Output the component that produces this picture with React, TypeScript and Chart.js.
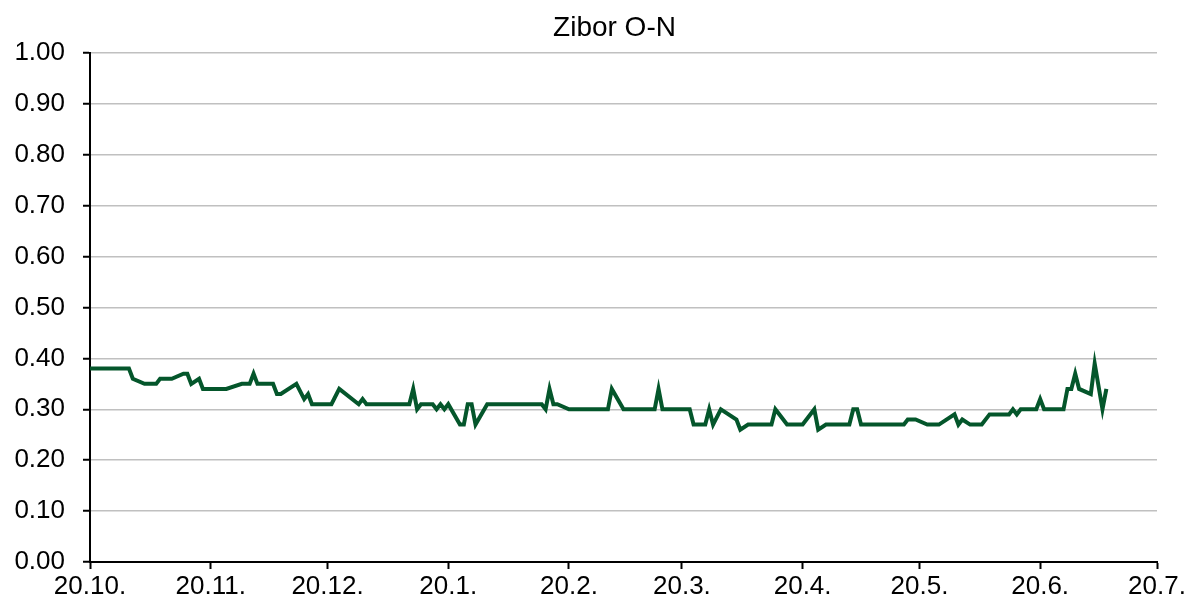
import React, { useEffect, useRef } from 'react';
import { Chart, registerables } from 'chart.js';

Chart.register(...registerables);

const TITLE = 'Zibor O-N';
const START = '2019-10-20';

const tickDates = [
  '2019-10-20', '2019-11-20', '2019-12-20', '2020-01-20', '2020-02-20',
  '2020-03-20', '2020-04-20', '2020-05-20', '2020-06-20', '2020-07-20',
];

const yTicks = [0, 0.1, 0.2, 0.3, 0.4, 0.5, 0.6, 0.7, 0.8, 0.9, 1.0];

const dates = [
  '2019-10-20', '2019-10-30', '2019-10-31', '2019-11-03', '2019-11-06', '2019-11-07',
  '2019-11-10', '2019-11-13', '2019-11-14', '2019-11-15', '2019-11-17', '2019-11-18',
  '2019-11-24', '2019-11-28', '2019-11-30', '2019-12-01', '2019-12-02', '2019-12-06',
  '2019-12-07', '2019-12-08', '2019-12-12', '2019-12-14', '2019-12-15', '2019-12-16',
  '2019-12-21', '2019-12-23', '2019-12-28', '2019-12-29', '2019-12-30',
  '2020-01-10', '2020-01-11', '2020-01-12', '2020-01-13', '2020-01-16', '2020-01-17',
  '2020-01-18', '2020-01-19', '2020-01-20', '2020-01-23', '2020-01-24', '2020-01-25',
  '2020-01-26', '2020-01-27', '2020-01-30',
  '2020-02-13', '2020-02-14', '2020-02-15', '2020-02-16', '2020-02-17', '2020-02-20',
  '2020-03-01', '2020-03-02', '2020-03-05', '2020-03-13', '2020-03-14', '2020-03-15',
  '2020-03-22', '2020-03-23', '2020-03-26', '2020-03-27', '2020-03-28', '2020-03-30',
  '2020-04-03', '2020-04-04', '2020-04-06', '2020-04-12', '2020-04-13', '2020-04-16',
  '2020-04-20', '2020-04-23', '2020-04-24', '2020-04-26',
  '2020-05-02', '2020-05-03', '2020-05-04', '2020-05-05', '2020-05-16', '2020-05-17',
  '2020-05-19', '2020-05-22', '2020-05-25', '2020-05-29', '2020-05-30', '2020-05-31',
  '2020-06-02', '2020-06-05', '2020-06-07', '2020-06-12', '2020-06-13', '2020-06-14',
  '2020-06-15', '2020-06-19', '2020-06-20', '2020-06-21', '2020-06-26', '2020-06-27',
  '2020-06-28', '2020-06-29', '2020-06-30', '2020-07-03', '2020-07-04', '2020-07-06',
  '2020-07-07',
];

const values = [
  0.38, 0.38, 0.36, 0.35, 0.35, 0.36,
  0.36, 0.37, 0.37, 0.35, 0.36, 0.34,
  0.34, 0.35, 0.35, 0.37, 0.35, 0.35,
  0.33, 0.33, 0.35, 0.32, 0.33, 0.31,
  0.31, 0.34, 0.31, 0.32, 0.31,
  0.31, 0.34, 0.30, 0.31, 0.31, 0.30,
  0.31, 0.30, 0.31, 0.27, 0.27, 0.31,
  0.31, 0.27, 0.31,
  0.31, 0.30, 0.34, 0.31, 0.31, 0.30,
  0.30, 0.34, 0.30, 0.30, 0.34, 0.30,
  0.30, 0.27, 0.27, 0.30, 0.27, 0.30,
  0.28, 0.26, 0.27, 0.27, 0.30, 0.27,
  0.27, 0.30, 0.26, 0.27,
  0.27, 0.30, 0.30, 0.27, 0.27, 0.28,
  0.28, 0.27, 0.27, 0.29, 0.27, 0.28,
  0.27, 0.27, 0.29, 0.29, 0.30, 0.29,
  0.30, 0.30, 0.32, 0.30, 0.30, 0.34,
  0.34, 0.37, 0.34, 0.33, 0.39, 0.30,
  0.34,
];

const DAY = 86400000;
function toUTC(s: string): number {
  const [y, m, d] = s.split('-').map(Number);
  return Date.UTC(y, m - 1, d);
}
const START_MS = toUTC(START);
function dayIndex(s: string): number {
  return Math.round((toUTC(s) - START_MS) / DAY);
}
function dayLabel(v: number): string {
  const dt = new Date(START_MS + Math.round(v) * DAY);
  return `${dt.getUTCDate()}.${dt.getUTCMonth() + 1}.`;
}

const FONT_FAMILY = '"Liberation Sans", Arial, Helvetica, sans-serif';

const shiftTitle = {
  id: 'shiftTitle',
  afterLayout(chart: any) {
    const t = chart.titleBlock;
    if (t) {
      t.left = 72;
    }
  },
};

export default function App() {
  const canvasRef = useRef<HTMLCanvasElement | null>(null);

  useEffect(() => {
    document.body.style.margin = '0';
    const canvas = canvasRef.current;
    if (!canvas) return;
    const points = dates.map((d, i) => ({ x: dayIndex(d), y: values[i] }));
    const tickValues = tickDates.map(dayIndex);

    const chart = new Chart(canvas, {
      type: 'line',
      data: {
        datasets: [
          {
            data: points,
            borderColor: '#04562b',
            backgroundColor: '#04562b',
            borderWidth: 4,
            pointRadius: 0,
            tension: 0,
            fill: false,
          },
        ],
      },
      plugins: [shiftTitle],
      options: {
        responsive: false,
        animation: false,
        devicePixelRatio: 1,
        layout: { padding: { left: 0, right: 34, top: 0, bottom: 0 } },
        plugins: {
          legend: { display: false },
          tooltip: { enabled: false },
          title: {
            display: true,
            text: TITLE,
            color: '#000',
            font: { size: 28, family: FONT_FAMILY, weight: 'normal' },
            padding: { top: 11, bottom: 8.4 },
          },
        },
        scales: {
          x: {
            type: 'linear',
            min: tickValues[0],
            max: tickValues[tickValues.length - 1],
            afterBuildTicks: (scale: any) => {
              scale.ticks = tickValues.map((v) => ({ value: v }));
            },
            afterFit: (scale: any) => {
              scale.height = 50;
            },
            ticks: {
              autoSkip: false,
              maxRotation: 0,
              color: '#000',
              padding: 2,
              font: { size: 26, family: FONT_FAMILY },
              callback: (v: any) => dayLabel(Number(v)),
            },
            grid: {
              drawOnChartArea: false,
              drawTicks: true,
              tickLength: 7,
              tickColor: '#000',
              tickWidth: 2,
            },
            border: { display: true, color: '#000', width: 2 },
          },
          y: {
            min: 0,
            max: 1,
            afterBuildTicks: (scale: any) => {
              scale.ticks = yTicks.map((v) => ({ value: v }));
            },
            afterFit: (scale: any) => {
              scale.width = 90;
            },
            ticks: {
              color: '#000',
              padding: 18,
              font: { size: 26, family: FONT_FAMILY },
              callback: (v: any) => Number(v).toFixed(2),
            },
            grid: {
              color: '#c0c0c0',
              lineWidth: 1.5,
              drawTicks: true,
              tickLength: 7,
              tickColor: '#000',
              tickWidth: 2,
            },
            border: { display: true, color: '#000', width: 2 },
          },
        },
      },
    } as any);

    return () => {
      chart.destroy();
    };
  }, []);

  return (
    <div style={{ position: 'absolute', left: 0, top: 0, width: 1191, height: 612, background: '#fff' }}>
      <canvas ref={canvasRef} width={1191} height={612} style={{ display: 'block' }} />
    </div>
  );
}
